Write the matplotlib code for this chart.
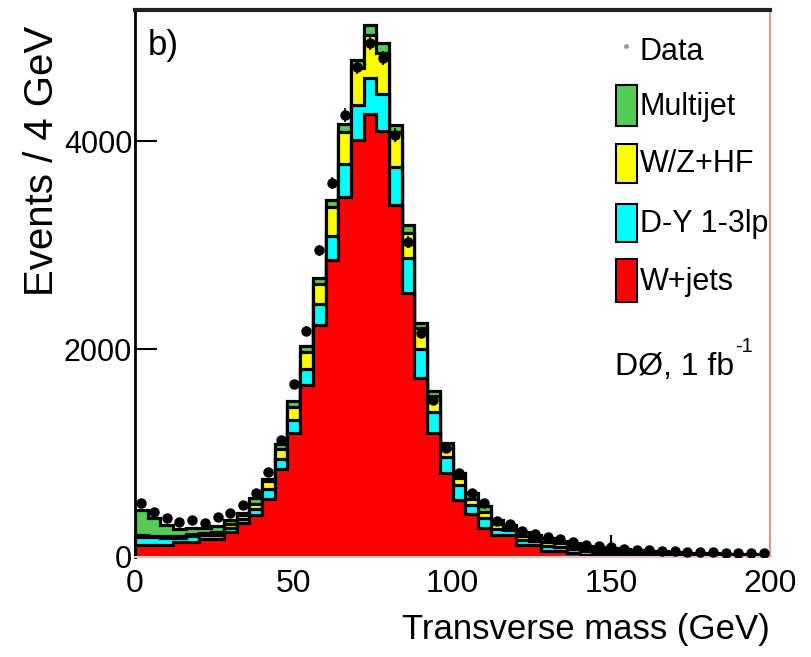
import numpy as np
import matplotlib
matplotlib.use("Agg")
import matplotlib.pyplot as plt
from matplotlib import font_manager as fm
from matplotlib.patches import Rectangle
from matplotlib.lines import Line2D

# ---- binning: 4 GeV bins from 0 to 200 GeV ----
edges = np.arange(0, 201, 4)

# ---- stacked backgrounds (events per bin) ----
w_jets = [120, 120, 120, 140, 140, 170, 175, 240, 327, 404,
          562, 843, 1195, 1657, 2228, 2856, 3465, 4010, 4263, 4099,
          3385, 2535, 1718, 1189, 811, 548, 410, 279, 212, 212,
          115, 115, 58, 58, 40, 22, 18, 14, 8, 7,
          6, 5, 5, 4, 4, 3, 3, 3, 2, 2]
dy_lp = [75, 70, 65, 40, 60, 40, 40, 40, 35, 55,
         96, 100, 119, 154, 208, 234, 314, 336, 346, 353,
         362, 337, 279, 208, 154, 144, 90, 96, 60, 45,
         50, 40, 45, 40, 35, 35, 32, 28, 25, 22,
         20, 18, 16, 14, 13, 12, 10, 9, 8, 7]
wz_hf = [15, 15, 15, 20, 20, 25, 30, 35, 40, 55,
         70, 99, 129, 161, 192, 278, 308, 353, 410, 397,
         336, 247, 208, 151, 80, 65, 60, 60, 45, 30,
         40, 30, 40, 35, 30, 28, 26, 24, 22, 20,
         18, 16, 14, 13, 12, 11, 10, 9, 8, 7]
multijet = [240, 170, 110, 70, 55, 45, 50, 40, 25, 50,
            25, 48, 57, 57, 58, 65, 80, 80, 99, 90,
            71, 73, 48, 48, 54, 48, 55, 55, 40, 25,
            35, 27, 35, 25, 25, 22, 22, 20, 20, 18,
            16, 15, 14, 12, 11, 10, 9, 8, 7, 6]

# ---- observed data ----
data = [520, 435, 375, 340, 355, 330, 385, 425, 500, 615,
        817, 1125, 1663, 2173, 2950, 3596, 4250, 4711, 4942, 4798,
        4058, 3029, 2154, 1510, 1048, 808, 620, 515, 345, 320,
        250, 225, 190, 170, 140, 120, 105, 95, 80, 72,
        65, 60, 56, 52, 48, 45, 42, 40, 38, 36]

x_ticks = [0, 50, 100, 150, 200]
y_ticks = [0, 2000, 4000]

labels = ["Multijet", "W/Z+HF", "D-Y 1-3lp", "W+jets"]
colors = ["#55cc55", "#ffff00", "#00ffff", "#ff0000"]


def has_font(name):
    try:
        fm.findfont(fm.FontProperties(family=name), fallback_to_default=False)
        return True
    except Exception:
        return False


NARROW = has_font("Liberation Sans Narrow")
HFONT = ["Liberation Sans Narrow", "Liberation Sans"] if NARROW else ["Liberation Sans"]
HSIZE = 30 if NARROW else 25
XTSIZE = 28 if NARROW else 23
YTSIZE = 26 if NARROW else 22
LEGSIZE = 26 if NARROW else 22
VFONT = ["Liberation Sans"]

W, H = 811, 657
fig = plt.figure(figsize=(W / 100, H / 100), dpi=100)
L, R, B, T = 135, 770, 557, 10
ax = fig.add_axes([L / W, 1 - B / H, (R - L) / W, (B - T) / H])


def fxy(px, py):
    return px / W, 1 - py / H


# cumulative stack, drawn from the top layer down
c1 = np.array(w_jets, float)
c2 = c1 + np.array(dy_lp)
c3 = c2 + np.array(wz_hf)
c4 = c3 + np.array(multijet)
for vals, col in zip([c4, c3, c2, c1], colors):
    ax.stairs(vals, edges, fill=True, facecolor=col, edgecolor="black",
              linewidth=2.3, baseline=0, zorder=2)

centers = 0.5 * (edges[:-1] + edges[1:])
d = np.array(data, float)
ax.errorbar(centers, d, yerr=np.sqrt(d), fmt="o", color="black", ms=6.5,
            elinewidth=1.2, capsize=0, zorder=5)

ax.set_xlim(0, 200)
ax.set_ylim(0, 5260)
ax.set_xticks(x_ticks)
ax.set_yticks(y_ticks)
ax.minorticks_off()
ax.tick_params(axis="both", direction="in", length=16, width=1.5,
               top=False, right=False)
ax.tick_params(axis="x", pad=9)
ax.tick_params(axis="y", pad=2)
for lab in ax.get_xticklabels():
    lab.set_family(HFONT)
    lab.set_fontsize(XTSIZE)
for lab in ax.get_yticklabels():
    lab.set_family(HFONT)
    lab.set_fontsize(YTSIZE)

ax.spines["top"].set_linewidth(3)
ax.spines["top"].set_color("#222222")
ax.spines["left"].set_linewidth(2)
ax.spines["left"].set_color("black")
ax.spines["right"].set_linewidth(1.5)
ax.spines["right"].set_color("#e89a9a")
ax.spines["bottom"].set_linewidth(1.5)
ax.spines["bottom"].set_color("#f2c0c0")

# axis titles
fig.text(*fxy(770, 630), "Transverse mass (GeV)", ha="right", va="center",
         family=HFONT, fontsize=HSIZE)
fig.text(*fxy(42, 26), "Events / 4 GeV", ha="center", va="top",
         rotation=90, family=VFONT, fontsize=29)

# panel tag
fig.text(*fxy(148, 45), "b)", ha="left", va="center", family=HFONT,
         fontsize=HSIZE)

# legend
fig.add_artist(Line2D([626 / W], [1 - 46 / H], marker="o", ms=2.5,
                      color="#999999", transform=fig.transFigure))
fig.text(*fxy(640, 52), "Data", ha="left", va="center", family=HFONT,
         fontsize=LEGSIZE)
box_y = [(85, 126), (144, 183), (204, 242), (259, 302)]
for (y0, y1), lab, col in zip(box_y, labels, colors):
    x0, yb = fxy(616, y1)
    fig.add_artist(Rectangle((x0, yb), 21 / W, (y1 - y0) / H,
                             facecolor=col, edgecolor="black", linewidth=1.5,
                             transform=fig.transFigure))
    fig.text(*fxy(640, 0.5 * (y0 + y1) + 1), lab, ha="left", va="center",
             family=HFONT, fontsize=LEGSIZE)

# experiment / luminosity tag
t = fig.text(*fxy(615, 367), "DØ, 1 fb", ha="left", va="center",
             family=HFONT, fontsize=LEGSIZE + 1)
fig.canvas.draw()
bb = t.get_window_extent()
fig.text((bb.x1 + 1) / W, 1 - 347 / H, "-1", ha="left", va="center",
         family=HFONT, fontsize=LEGSIZE * 0.65)

fig.savefig("out.png", dpi=100)
